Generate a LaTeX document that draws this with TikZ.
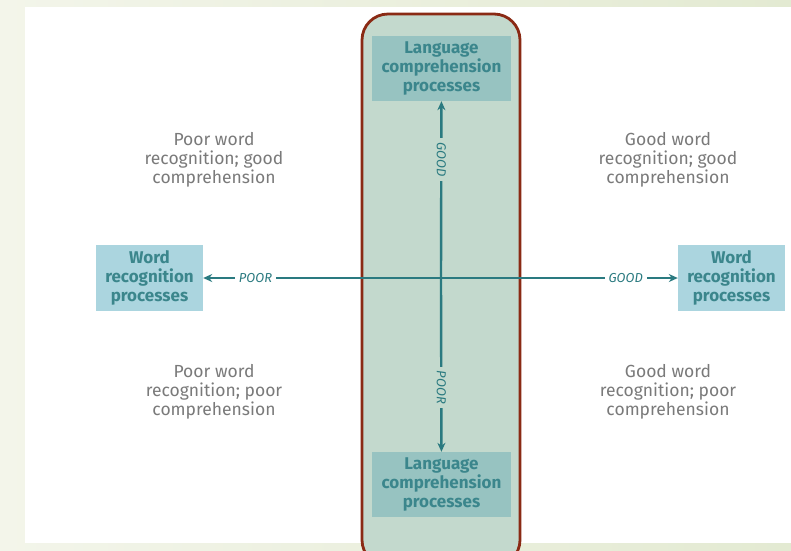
\documentclass[tikz,border=0pt]{standalone}
\usepackage{fontspec}
\setmainfont{Fira Sans}
\usetikzlibrary{arrows.meta,positioning}
\definecolor{axisteal}{HTML}{2A7A80}
\definecolor{textteal}{HTML}{3B868C}
\definecolor{bandgreen}{HTML}{C3D9CD}
\definecolor{langfill}{HTML}{97C3C1}
\definecolor{wordfill}{HTML}{ABD5DF}
\definecolor{bandedge}{HTML}{8A2A14}
\definecolor{quadgray}{HTML}{7A7A7A}
\definecolor{pageleft}{HTML}{F3F5EA}
\definecolor{pageright}{HTML}{E3EAD2}
\tikzset{
    procbox/.style={text=textteal, font=\fontsize{17}{19}\selectfont\bfseries, align=center, inner sep=0pt}, % 四个过程框
    langbox/.style={procbox, fill=langfill, minimum width=139pt, minimum height=65pt},
    wordbox/.style={procbox, fill=wordfill, minimum width=107pt, minimum height=66pt},
    quadtext/.style={text=quadgray, font=\fontsize{17.5}{19}\selectfont, align=center}, % 四个象限的说明
    axis/.style={draw=axisteal, line width=2.4pt, -{Stealth[length=9pt, width=8pt]}},
    axislabel/.style={text=axisteal, font=\fontsize{13}{13}\selectfont\itshape, inner sep=4pt}
}

\begin{document}
\begin{tikzpicture}[x=1pt, y=-1pt]
    \useasboundingbox (0,0) rectangle (791,550);
    \clip (0,0) rectangle (791,550);
    \shade[left color=pageleft, right color=pageright] (0,0) rectangle (791,550);
    \fill[white] (25,7) rectangle (791,543);

    % 中间的竖条
    \draw[fill=bandgreen, draw=bandedge, line width=2.8pt, rounded corners=26pt] (362,14) rectangle (520,566);

    \node[langbox] (langtop) at (441.5,68.5) {Language\\comprehension\\processes};
    \node[langbox] (langbot) at (441.5,484.5) {Language\\comprehension\\processes};
    \node[wordbox] (wordleft) at (149.5,278) {Word\\recognition\\processes};
    \node[wordbox] (wordright) at (731.5,278) {Word\\recognition\\processes};
    \coordinate (origin) at (441,278);

    \draw[axis] (origin) -- (langtop)
        node[pos=0.67, axislabel, fill=bandgreen, rotate=-90] (goodv) {GOOD};
    \draw[axis] (origin) -- (langbot)
        node[pos=0.63, axislabel, fill=bandgreen, rotate=-90] (poorv) {POOR};
    \draw[axis] (origin) -- (wordleft)
        node[pos=0.78, axislabel, fill=white] (poorh) {POOR};
    \draw[axis] (origin) -- (wordright)
        node[pos=0.78, axislabel, fill=white] (goodh) {GOOD};

    % 四个象限
    \node[quadtext] (quadtl) at (214,160) {Poor word\\recognition; good\\comprehension};
    \node[quadtext] (quadtr) at (668,160) {Good word\\recognition; good\\comprehension};
    \node[quadtext] (quadbl) at (214,392) {Poor word\\recognition; poor\\comprehension};
    \node[quadtext] (quadbr) at (668,392) {Good word\\recognition; poor\\comprehension};

\end{tikzpicture}
\end{document}
